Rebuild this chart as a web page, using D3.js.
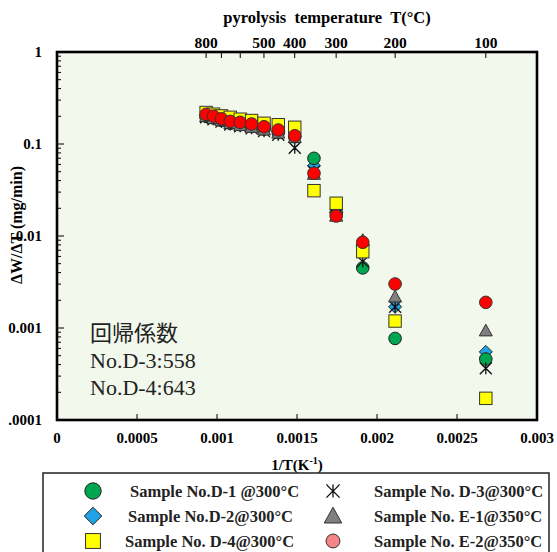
<!DOCTYPE html>
<html><head><meta charset="utf-8">
<script src="https://cdn.jsdelivr.net/npm/d3@7"></script>
<style>
html,body{margin:0;padding:0;background:#fff;}
svg{display:block;}
</style></head>
<body>
<svg id="chart" width="557" height="552"></svg>
<script>
// ---- data ----
const invT = [0.000932,0.000978,0.001028,0.001083,0.001145,0.001216,0.001294,0.001383,0.001486,0.001606,0.001745,0.001911,0.002113,0.00268];
const seriesD1 = [0.200,0.192,0.180,0.168,0.162,0.155,0.145,0.133,0.120,0.0699,0.018,0.0045,0.00077,0.00046];
const seriesD2 = [0.205,0.195,0.183,0.172,0.165,0.158,0.148,0.137,0.122,0.058,0.018,0.0080,0.0017,0.00055];
const seriesD3 = [0.195,0.186,0.175,0.163,0.156,0.148,0.138,0.126,0.091,0.050,0.017,0.0053,0.0017,0.000365];
const seriesD4 = [0.220,0.211,0.202,0.195,0.186,0.180,0.168,0.162,0.152,0.0311,0.0227,0.00675,0.00119,0.000172];
const seriesE1 = [0.200,0.190,0.180,0.168,0.160,0.153,0.143,0.132,0.118,0.047,0.0165,0.0090,0.00219,0.000935];
const seriesE2 = [0.210,0.201,0.188,0.176,0.172,0.165,0.154,0.142,0.123,0.0481,0.0165,0.00855,0.00301,0.0019];
const xTicks = [0,0.0005,0.001,0.0015,0.002,0.0025,0.003];
const xTickLabels = ["0","0.0005","0.001","0.0015","0.002","0.0025","0.003"];
const yTicks = [1,0.1,0.01,0.001,0.0001];
const yTickLabels = ["1","0.1","0.01","0.001",".0001"];
const topTempTicks = [800,700,600,500,400,300,200,100];
const topTempLabels = [800,500,400,300,200,100];
const legendLabels = ["Sample No.D-1 @300°C","Sample No.D-2@300°C","Sample No. D-4@300°C","Sample No. D-3@300°C","Sample No. E-1@350°C","Sample No. E-2@350°C"];
const noteLines = ["回帰係数","No.D-3:558","No.D-4:643"];

const svg = d3.select("#chart");
const L=57,R=537,T=52,B=420;
const x = d3.scaleLinear().domain([0,0.003]).range([L,R]);
const y = d3.scaleLog().domain([1e-4,1]).range([B,T]);
const FONT = "'Liberation Serif','Times New Roman',serif";

// plot background
svg.append("rect").attr("x",L).attr("y",T).attr("width",R-L).attr("height",B-T).attr("fill","#f3f8ed");

// y axis ticks (inside)
const minor=[];
for(let e=-4;e<0;e++){for(let m=2;m<=9;m++){minor.push(m*Math.pow(10,e));}}
svg.append("g").selectAll("line").data(minor).join("line")
  .attr("x1",L).attr("x2",L+4).attr("y1",d=>y(d)).attr("y2",d=>y(d)).attr("stroke","#000").attr("stroke-width",1);
svg.append("g").selectAll("line").data(yTicks).join("line")
  .attr("x1",L).attr("x2",L+7).attr("y1",d=>y(d)).attr("y2",d=>y(d)).attr("stroke","#000").attr("stroke-width",1);

// y axis title (drawn before tick labels so labels overlap it as in reference)
svg.append("text").attr("transform","translate(22,225) rotate(-90)").attr("text-anchor","middle")
  .attr("font-family",FONT).attr("font-weight","bold").attr("font-size",16)
  .text("ΔW/ΔT (mg/min)");

svg.append("g").selectAll("text").data(yTicks).join("text")
  .attr("x",42).attr("y",d=>y(d)).attr("dy","0.35em").attr("text-anchor","end")
  .attr("font-family",FONT).attr("font-weight","bold").attr("font-size",15)
  .text((d,i)=>yTickLabels[i]);

// x axis ticks (inside)
svg.append("g").selectAll("line").data(xTicks).join("line")
  .attr("x1",d=>x(d)).attr("x2",d=>x(d)).attr("y1",B).attr("y2",B-6).attr("stroke","#000").attr("stroke-width",1);
svg.append("g").selectAll("text").data(xTicks).join("text")
  .attr("x",d=>x(d)).attr("y",443).attr("text-anchor","middle")
  .attr("font-family",FONT).attr("font-weight","bold").attr("font-size",15)
  .text((d,i)=>xTickLabels[i]);

// top temperature axis
const tx = t => x(1/(t+273.15));
svg.append("g").selectAll("line").data(topTempTicks).join("line")
  .attr("x1",tx).attr("x2",tx).attr("y1",T).attr("y2",T+6).attr("stroke","#000").attr("stroke-width",1);
svg.append("g").selectAll("text").data(topTempLabels).join("text")
  .attr("x",tx).attr("y",48).attr("text-anchor","middle")
  .attr("font-family",FONT).attr("font-weight","bold").attr("font-size",15.5)
  .text(d=>d);
svg.append("text").attr("x",327).attr("y",23).attr("text-anchor","middle")
  .attr("font-family",FONT).attr("font-weight","bold").attr("font-size",16.5)
  .attr("xml:space","preserve").text("pyrolysis  temperature  T(°C)");

// x axis title
const xt = svg.append("text").attr("x",297).attr("y",470).attr("text-anchor","middle")
  .attr("font-family",FONT).attr("font-weight","bold").attr("font-size",15);
xt.append("tspan").text("1/T(K");
xt.append("tspan").attr("dy",-6).attr("font-size",10).text("-1");
xt.append("tspan").attr("dy",6).text(")");

// annotation
svg.append("g").selectAll("text").data(noteLines).join("text")
  .attr("x",90).attr("y",(d,i)=>341+i*27)
  .attr("font-family","'Liberation Serif','Noto Sans CJK JP',serif").attr("font-size",22).attr("fill","#222")
  .text(d=>d);

// marker shapes
function drawMarker(g,type,cx,cy,s){
  const k=s||1;
  if(type==="circleG"){g.append("circle").attr("cx",cx).attr("cy",cy).attr("r",6.3*k).attr("fill","#00a550").attr("stroke","#222").attr("stroke-width",1);}
  if(type==="diamond"){const r=6.5*k;g.append("path").attr("d",`M${cx},${cy-r}L${cx+r},${cy}L${cx},${cy+r}L${cx-r},${cy}Z`).attr("fill","#1fa3e6").attr("stroke","#222").attr("stroke-width",1);}
  if(type==="ast"){const r=6*k;g.append("path").attr("d",`M${cx},${cy-r}L${cx},${cy+r}M${cx-r},${cy-r}Q${cx-r*0.3},${cy-r*0.2} ${cx},${cy}Q${cx+r*0.3},${cy-r*0.2} ${cx+r},${cy-r}M${cx-r},${cy+r}L${cx},${cy}L${cx+r},${cy+r}`).attr("fill","none").attr("stroke","#111").attr("stroke-width",1.3);}
  if(type==="square"){const r=6.2*k;g.append("rect").attr("x",cx-r).attr("y",cy-r).attr("width",2*r).attr("height",2*r).attr("fill","#ffff00").attr("stroke","#333").attr("stroke-width",1);}
  if(type==="tri"){const r=6.5*k;g.append("path").attr("d",`M${cx},${cy-r}L${cx+r},${cy+r*0.8}L${cx-r},${cy+r*0.8}Z`).attr("fill","#7f7f7f").attr("stroke","#333").attr("stroke-width",1);}
  if(type==="circleR"){g.append("circle").attr("cx",cx).attr("cy",cy).attr("r",6.3*k).attr("fill","#ff0000").attr("stroke","#333").attr("stroke-width",1);}
  if(type==="circleP"){g.append("circle").attr("cx",cx).attr("cy",cy).attr("r",6.3*k).attr("fill","#f4868a").attr("stroke","#333").attr("stroke-width",1);}
}

// draw series (draw order matches overlap in reference)
const series = [
  {vals:seriesD2,type:"diamond"},
  {vals:seriesD1,type:"circleG"},
  {vals:seriesD3,type:"ast"},
  {vals:seriesD4,type:"square"},
  {vals:seriesE1,type:"tri"},
  {vals:seriesE2,type:"circleR"}
];
const pg = svg.append("g");
series.forEach(s=>{
  const g = pg.append("g");
  s.vals.forEach((v,i)=>drawMarker(g,s.type,x(invT[i]),y(v)));
});

// plot border
svg.append("rect").attr("x",L).attr("y",T).attr("width",R-L).attr("height",B-T).attr("fill","none").attr("stroke","#000").attr("stroke-width",2.6);

// legend
svg.append("rect").attr("x",43).attr("y",473).attr("width",506).attr("height",90).attr("fill","#fff").attr("stroke","#222").attr("stroke-width",1.5);
const legItems = [
  {type:"circleG",mx:93,tx:130,row:0,s:1.3},
  {type:"diamond",mx:93,tx:128,row:1,s:1.35},
  {type:"square",mx:93,tx:125,row:2,s:1.2},
  {type:"ast",mx:333,tx:374,row:0,s:1.1},
  {type:"tri",mx:333,tx:374,row:1,s:1.35},
  {type:"circleP",mx:333,tx:374,row:2,s:1.1}
];
const lg = svg.append("g");
legItems.forEach((it,i)=>{
  const cy = 491+it.row*25;
  drawMarker(lg,it.type,it.mx,cy,it.s);
  lg.append("text").attr("x",it.tx).attr("y",cy).attr("dy","0.35em")
    .attr("font-family",FONT).attr("font-weight","bold").attr("font-size",16.5).attr("fill","#222")
    .text(legendLabels[i]);
});
</script>
</body></html>
